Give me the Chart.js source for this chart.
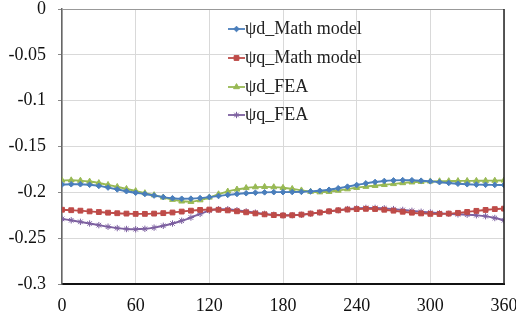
<!DOCTYPE html>
<html><head><meta charset="utf-8">
<script src="https://cdn.jsdelivr.net/npm/chart.js@4/dist/chart.umd.min.js"></script>
<style>html,body{margin:0;padding:0;background:#fff}#wrap{width:516px;height:320px;position:relative}</style>
</head><body><div id="wrap"><canvas id="c" width="516" height="320"></canvas></div>
<script>
const angles = [0,7.5,15,22.5,30,37.5,45,52.5,60,67.5,75,82.5,90,97.5,105,112.5,120,127.5,135,142.5,150,157.5,165,172.5,180,187.5,195,202.5,210,217.5,225,232.5,240,247.5,255,262.5,270,277.5,285,292.5,300,307.5,315,322.5,330,337.5,345,352.5,360];
const psiD_Math = [-0.1915,-0.1912,-0.1912,-0.1918,-0.1930,-0.1948,-0.1968,-0.1988,-0.2005,-0.2018,-0.2035,-0.2052,-0.2064,-0.2070,-0.2069,-0.2063,-0.2052,-0.2040,-0.2028,-0.2018,-0.2010,-0.2004,-0.2000,-0.1998,-0.1998,-0.1997,-0.1995,-0.1990,-0.1983,-0.1972,-0.1955,-0.1938,-0.1920,-0.1902,-0.1887,-0.1876,-0.1870,-0.1867,-0.1868,-0.1873,-0.1880,-0.1889,-0.1898,-0.1906,-0.1912,-0.1916,-0.1918,-0.1919,-0.1920];
const psiQ_Math = [-0.2190,-0.2195,-0.2200,-0.2208,-0.2215,-0.2222,-0.2228,-0.2232,-0.2235,-0.2235,-0.2232,-0.2227,-0.2220,-0.2210,-0.2200,-0.2192,-0.2188,-0.2190,-0.2197,-0.2207,-0.2218,-0.2230,-0.2240,-0.2248,-0.2252,-0.2250,-0.2243,-0.2232,-0.2220,-0.2207,-0.2196,-0.2188,-0.2183,-0.2180,-0.2182,-0.2190,-0.2200,-0.2212,-0.2222,-0.2230,-0.2235,-0.2236,-0.2232,-0.2224,-0.2214,-0.2202,-0.2192,-0.2183,-0.2178];
const psiD_FEA = [-0.1870,-0.1868,-0.1872,-0.1882,-0.1898,-0.1918,-0.1940,-0.1962,-0.1985,-0.2008,-0.2030,-0.2055,-0.2080,-0.2098,-0.2102,-0.2085,-0.2055,-0.2020,-0.1990,-0.1968,-0.1952,-0.1943,-0.1940,-0.1943,-0.1950,-0.1962,-0.1978,-0.1992,-0.1998,-0.1993,-0.1980,-0.1965,-0.1950,-0.1938,-0.1928,-0.1918,-0.1908,-0.1898,-0.1890,-0.1884,-0.1880,-0.1878,-0.1877,-0.1876,-0.1875,-0.1874,-0.1873,-0.1872,-0.1870];
const psiQ_FEA = [-0.2290,-0.2305,-0.2322,-0.2340,-0.2358,-0.2375,-0.2390,-0.2400,-0.2403,-0.2398,-0.2385,-0.2365,-0.2340,-0.2310,-0.2275,-0.2235,-0.2200,-0.2185,-0.2185,-0.2195,-0.2208,-0.2222,-0.2235,-0.2245,-0.2250,-0.2250,-0.2245,-0.2233,-0.2220,-0.2207,-0.2195,-0.2183,-0.2175,-0.2170,-0.2170,-0.2175,-0.2183,-0.2192,-0.2202,-0.2212,-0.2220,-0.2228,-0.2234,-0.2240,-0.2244,-0.2250,-0.2260,-0.2280,-0.2305];
const seriesNames = ['ψd_Math model','ψq_Math model','ψd_FEA','ψq_FEA'];
const xTicks = [0,60,120,180,240,300,360];
const yTicks = [0,-0.05,-0.1,-0.15,-0.2,-0.25,-0.3];

const FONT = '"Liberation Serif", "Times New Roman", serif';
const colors = ['#4a7ebb','#be4b48','#98b954','#7d60a0'];
const styles = ['rectRot','rect','triangle','star'];
const radii = [2.8,3.4,3.4,3.2];
const vals = [psiD_Math, psiQ_Math, psiD_FEA, psiQ_FEA];

const datasets = vals.map((v,i)=>({
  label: seriesNames[i],
  data: angles.map((a,j)=>({x:a,y:v[j]})),
  borderColor: colors[i],
  backgroundColor: colors[i],
  borderWidth: 1.9,
  pointStyle: styles[i],
  pointRadius: radii[i],
  pointBorderWidth: 1,
  tension: 0.4,
  cubicInterpolationMode: 'monotone'
}));

const frame = {
  id:'frame',
  afterDraw(chart){
    const ctx = chart.ctx, a = chart.chartArea;
    ctx.save();
    ctx.strokeStyle = '#999'; ctx.lineWidth = 1;
    ctx.beginPath(); ctx.moveTo(a.left, a.top+0.5); ctx.lineTo(a.right, a.top+0.5); ctx.stroke();
    ctx.strokeStyle = '#222'; ctx.lineWidth = 1.5;
    ctx.beginPath(); ctx.moveTo(a.right, a.top); ctx.lineTo(a.right, a.bottom); ctx.stroke();
    // legend
    const x0 = 228, ys = [29,58,87,115];
    chart.data.datasets.forEach((ds,i)=>{
      const y = ys[i];
      ctx.strokeStyle = ds.borderColor; ctx.lineWidth = 1.8;
      ctx.beginPath(); ctx.moveTo(x0, y); ctx.lineTo(x0+17, y); ctx.stroke();
      ctx.fillStyle = ds.backgroundColor; ctx.strokeStyle = ds.borderColor; ctx.lineWidth = 1;
      Chart.helpers.drawPoint(ctx, {pointStyle: ds.pointStyle, radius: ds.pointRadius, borderWidth:1}, x0+8.5, y);
      ctx.fillStyle = '#222';
      ctx.font = '18px ' + FONT;
      ctx.textBaseline = 'middle'; ctx.textAlign = 'left';
      ctx.fillText(ds.label, x0+17, y);
    });
    ctx.restore();
  }
};

new Chart(document.getElementById('c'), {
  type: 'line',
  data: { datasets },
  options: {
    responsive: false,
    animation: false,
    layout: { padding: { left: 0, right: 12, top: 9, bottom: 0 } },
    plugins: { legend: { display: false }, tooltip: { enabled: false } },
    scales: {
      x: {
        type: 'linear', min: 0, max: 360,
        afterBuildTicks(s){ s.ticks = xTicks.map(v=>({value:v})); },
        afterFit(s){ s.height = 36; s.paddingLeft = 0; s.paddingRight = 0; },
        grid: { color: '#d9d9d9', drawTicks: false },
        border: { color: '#111', width: 2 },
        ticks: { color: '#111', font: { family: FONT, size: 18 }, padding: 11, maxRotation: 0 }
      },
      y: {
        min: -0.3, max: 0,
        afterBuildTicks(s){ s.ticks = yTicks.map(v=>({value:v})); },
        afterFit(s){ s.width = 62; s.paddingTop = 0; s.paddingBottom = 0; },
        grid: { color: '#d9d9d9', tickLength: 4, tickColor: '#888' },
        border: { color: '#666', width: 1.5 },
        ticks: { color: '#111', font: { family: FONT, size: 18 }, padding: 12,
          callback: v => String(Number(v.toFixed(2))) }
      }
    }
  },
  plugins: [frame]
});
</script></body></html>
